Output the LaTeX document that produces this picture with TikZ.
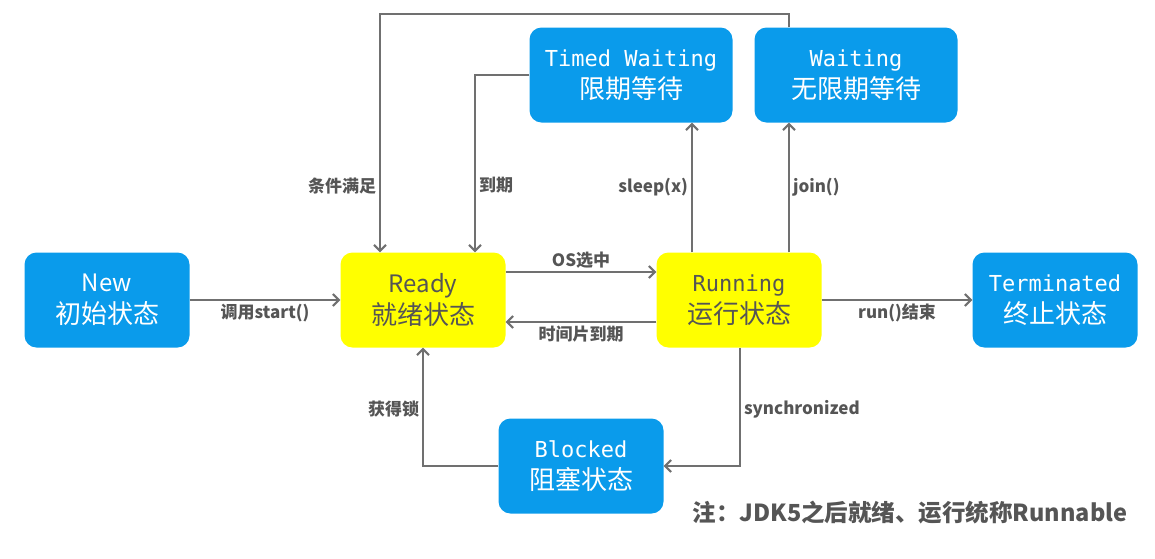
\documentclass[tikz,border=0pt]{standalone}
\usepackage{fontspec}
\setmainfont{Noto Sans CJK SC}
\newfontfamily\monofont{DejaVu Sans Mono}
\usepackage{xcolor}
\usetikzlibrary{arrows.meta}
\definecolor{vblue}{HTML}{0A9BEB}
\definecolor{vyellow}{HTML}{FFFF00}
\definecolor{vgray}{HTML}{707070}
\definecolor{vdarkgray}{HTML}{555555}

\tikzset{
	state/.style={fill=vblue, text=white, rounded corners=12pt, minimum width=165pt, minimum height=95pt, align=center, font=\fontsize{26}{32}\selectfont},
	ready/.style={state, fill=vyellow, text=vdarkgray},
	wide/.style={minimum width=203pt},
	conn/.style={draw=vgray, line width=2pt, -{Straight Barb[length=6pt, width=12pt]}},
	lbl/.style={text=vdarkgray, font=\fontsize{17}{20}\selectfont\bfseries, inner sep=3pt},
	note/.style={text=vdarkgray, font=\fontsize{23.5}{28}\selectfont\bfseries}
}

\begin{document}
\begin{tikzpicture}[x=1pt, y=-1pt]
		\useasboundingbox (0,0) rectangle (1155,558);
		\node[state] (new) at (107,300) {{\fontsize{24}{32}\selectfont New}\\初始状态};
		\node[ready] (ready) at (423,300) {{\fontsize{24}{32}\selectfont Ready}\\就绪状态};
		\node[ready] (running) at (739,300) {{\monofont\fontsize{22}{32}\selectfont Running}\\运行状态};
		\node[state] (term) at (1055,300) {{\monofont\fontsize{22}{32}\selectfont Terminated}\\终止状态};
		\node[state, wide] (timed) at (631,75) {{\monofont\fontsize{22}{32}\selectfont Timed Waiting}\\限期等待};
		\node[state, wide] (wait) at (856,75) {{\monofont\fontsize{22}{32}\selectfont Waiting}\\无限期等待};
		\node[state] (blocked) at (581,466) {{\monofont\fontsize{22}{32}\selectfont Blocked}\\阻塞状态};
		\coordinate (top) at (380,14);
		\node[note] (notetext) at (910,513) {注：JDK5之后就绪、运行统称Runnable};
		\draw[conn] (new.east) -- node[lbl, below] {调用start()} (ready.west);
		\draw[conn] ([yshift=28pt]ready.east) -- node[lbl, above] {OS选中} ([yshift=28pt]running.west);
		\draw[conn] ([yshift=-22pt]running.west) -- node[lbl, below] {时间片到期} ([yshift=-22pt]ready.east);
		\draw[conn] (running.east) -- node[lbl, below] {run()结束} (term.west);
		\draw[conn] ([xshift=-47pt]running.north) -- node[lbl, left] {sleep(x)} ([xshift=-47pt]running.north |- timed.south);
		\draw[conn] ([xshift=50pt]running.north) -- node[lbl, right] {join()} ([xshift=50pt]running.north |- wait.south);
		\draw[conn] ([xshift=-67pt]wait.north) |- (top) -- node[lbl, left, pos=0.72] {条件满足} ([xshift=-43pt]ready.north);
		\draw[conn] (timed.west) -| node[lbl, right, pos=0.81] {到期} ([xshift=52pt]ready.north);
		\draw[conn] ([xshift=1pt]running.south) |- node[lbl, right, pos=0.26] {synchronized} (blocked.east);
		\draw[conn] (blocked.west) -| node[lbl, left, pos=0.74] {获得锁} (ready.south);
	\end{tikzpicture}
\end{document}
